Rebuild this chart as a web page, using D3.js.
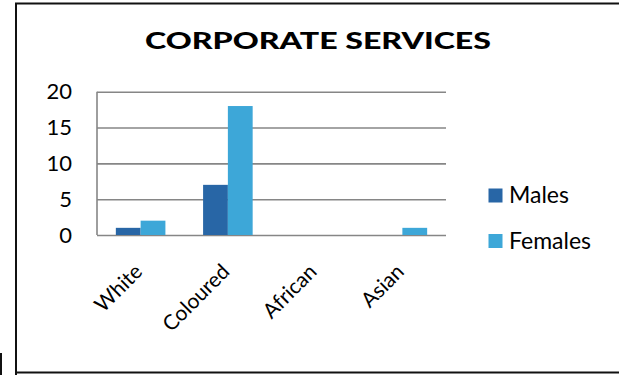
<!DOCTYPE html>
<html>
<head>
<meta charset="utf-8">
<script src="https://cdn.jsdelivr.net/npm/d3@7"></script>
<style>
  html, body { margin: 0; padding: 0; background: #fff; }
  svg { display: block; font-family: Lato, "Open Sans", sans-serif; }
</style>
</head>
<body>
<svg id="chart" width="619" height="375"></svg>
<script>
// Staff counts by population group for the Corporate Services directorate
const categories = ["White", "Coloured", "African", "Asian"];
const seriesNames = ["Males", "Females"];
const males = [1, 7, 0, 0];
const females = [2, 18, 0, 1];
const yTicks = [0, 5, 10, 15, 20];
const colors = ["#2866A6", "#3DA7D8"];
const title = "CORPORATE SERVICES";

const svg = d3.select("#chart");

// outer frame
svg.append("path")
  .attr("d", "M16,376 V3.5 H621 M16,372.5 H621")
  .attr("fill", "none").attr("stroke", "#111").attr("stroke-width", 2);
svg.append("line")
  .attr("x1", 1).attr("x2", 1).attr("y1", 353).attr("y2", 375)
  .attr("stroke", "#111").attr("stroke-width", 2);

// title
svg.append("text")
  .attr("x", 318).attr("y", 49)
  .attr("text-anchor", "middle")
  .attr("font-size", 23).attr("font-weight", 900)
  .attr("textLength", 346).attr("lengthAdjust", "spacingAndGlyphs")
  .text(title);

const x = d3.scaleBand().domain(categories).range([97, 446]);
const xs = d3.scaleBand().domain(seriesNames).range([0, x.bandwidth()]).paddingOuter(0.76);
const y = d3.scaleLinear().domain([0, 20]).range([235, 91.7]);

// horizontal gridlines
const yAxis = d3.axisLeft(y).tickValues(yTicks).tickSize(-(446 - 97)).tickPadding(25);
const gy = svg.append("g").attr("transform", "translate(97,0)").call(yAxis);
gy.select(".domain").remove();
gy.selectAll(".tick line").attr("stroke", "#868686").attr("stroke-width", 1.6);
gy.selectAll(".tick text").attr("font-size", 22).attr("fill", "#000")
  .attr("font-family", "Lato, sans-serif");

// vertical axis line
svg.append("line")
  .attr("x1", 97).attr("x2", 97).attr("y1", y(20)).attr("y2", y(0))
  .attr("stroke", "#868686").attr("stroke-width", 1.6);

// bars
const rows = categories.map((c, i) => ({ c, vals: [males[i], females[i]] }));
const groups = svg.append("g").selectAll("g").data(rows).join("g")
  .attr("transform", d => `translate(${x(d.c)},0)`);
groups.selectAll("rect")
  .data(d => d.vals.map((v, j) => ({ v, s: seriesNames[j], j })))
  .join("rect")
  .attr("x", d => xs(d.s))
  .attr("width", xs.bandwidth())
  .attr("y", d => y(d.v))
  .attr("height", d => y(0) - y(d.v))
  .attr("fill", d => colors[d.j]);

// rotated category labels
const xAxis = d3.axisBottom(x).tickSize(0).tickPadding(0);
const gx = svg.append("g").attr("transform", "translate(0,235)").call(xAxis);
gx.select(".domain").remove();
gx.selectAll(".tick text")
  .attr("font-size", 21).attr("fill", "#000")
  .attr("font-family", "Lato, sans-serif")
  .attr("text-anchor", "end")
  .attr("dy", 0)
  .attr("transform", "translate(3,38) rotate(-45)");

// legend
const legend = svg.append("g").selectAll("g").data(seriesNames).join("g")
  .attr("transform", (d, i) => `translate(488.5,${188.5 + i * 45.5})`);
legend.append("rect").attr("width", 14).attr("height", 14).attr("fill", (d, i) => colors[i]);
legend.append("text").attr("x", 20.5).attr("y", 14.8)
  .attr("font-size", 23).attr("fill", "#000").text(d => d);
</script>
</body>
</html>
